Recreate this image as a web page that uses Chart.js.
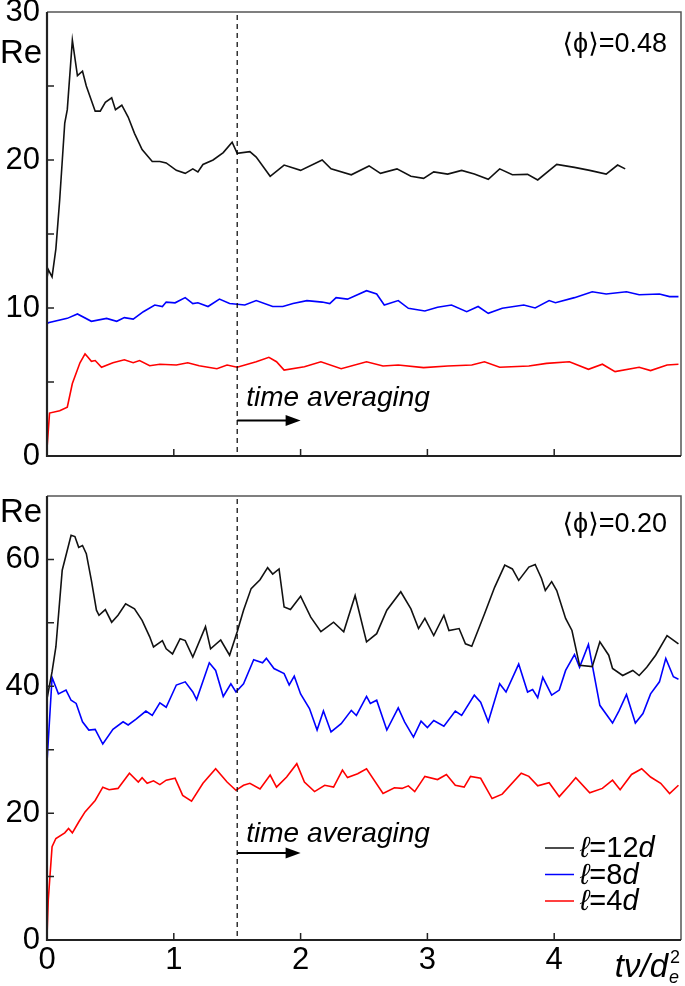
<!DOCTYPE html>
<html>
<head>
<meta charset="utf-8">
<script src="https://cdn.jsdelivr.net/npm/chart.js@4.4.1/dist/chart.umd.min.js"></script>
<style>
  body { margin: 0; background: #fff; }
  #wrap { position: relative; width: 685px; height: 986px; }
  canvas { position: absolute; left: 0; }
</style>
</head>
<body>
<div id="wrap">
  <canvas id="topChart" width="685" height="480" style="top:0"></canvas>
  <canvas id="bottomChart" width="685" height="506" style="top:480px"></canvas>
</div>
<script>
// lengths of the box, one series each
const lengths = ['12', '8', '4'];
const colors = ['#111111', '#0000ff', '#ff0000'];

// <phi> = 0.48 panel
const tTop12 = [0, 0.01, 0.04, 0.07, 0.10, 0.14, 0.16, 0.20, 0.24, 0.28, 0.31, 0.38, 0.42, 0.46, 0.51, 0.54, 0.59, 0.64, 0.69, 0.75, 0.83, 0.89, 0.94, 1.02, 1.09, 1.15, 1.19, 1.23, 1.31, 1.39, 1.46, 1.50, 1.60, 1.65, 1.76, 1.87, 2.00, 2.17, 2.24, 2.40, 2.54, 2.63, 2.76, 2.87, 2.97, 3.05, 3.16, 3.27, 3.37, 3.48, 3.57, 3.67, 3.79, 3.87, 4.02, 4.16, 4.28, 4.41, 4.50, 4.56];
const reTop12 = [12.0, 12.6, 12.1, 14.0, 17.3, 22.5, 23.4, 28.1, 25.7, 26.0, 25.0, 23.3, 23.3, 23.9, 24.2, 23.4, 23.7, 22.9, 21.8, 20.7, 19.9, 19.9, 19.8, 19.3, 19.1, 19.4, 19.2, 19.7, 20.0, 20.5, 21.2, 20.45, 20.56, 20.2, 18.9, 19.66, 19.3, 20.0, 19.4, 19.0, 19.6, 19.1, 19.4, 18.9, 18.76, 19.2, 19.05, 19.3, 19.05, 18.7, 19.4, 19.0, 19.03, 18.65, 19.7, 19.5, 19.3, 19.05, 19.66, 19.4];

const tTop8 = [0, 0.01, 0.16, 0.24, 0.35, 0.47, 0.55, 0.61, 0.68, 0.76, 0.85, 0.91, 0.94, 1.01, 1.09, 1.15, 1.19, 1.27, 1.36, 1.44, 1.56, 1.65, 1.78, 1.86, 1.94, 2.05, 2.17, 2.23, 2.28, 2.37, 2.52, 2.60, 2.66, 2.77, 2.85, 2.98, 3.08, 3.19, 3.31, 3.40, 3.48, 3.59, 3.76, 3.85, 3.96, 4.01, 4.16, 4.30, 4.41, 4.57, 4.67, 4.83, 4.91, 4.98];
const reTop8 = [8.9, 9.0, 9.3, 9.6, 9.1, 9.3, 9.1, 9.35, 9.25, 9.75, 10.2, 10.1, 10.4, 10.35, 10.7, 10.3, 10.35, 10.1, 10.6, 10.3, 10.2, 10.5, 10.1, 10.1, 10.3, 10.5, 10.4, 10.3, 10.7, 10.6, 11.17, 10.95, 10.2, 10.5, 9.98, 9.8, 10.05, 10.2, 9.75, 10.1, 9.64, 9.98, 10.2, 10.0, 10.5, 10.36, 10.7, 11.1, 10.95, 11.1, 10.9, 10.95, 10.77, 10.77];

const tTop4 = [0, 0.02, 0.10, 0.16, 0.20, 0.26, 0.30, 0.32, 0.35, 0.38, 0.43, 0.52, 0.61, 0.68, 0.73, 0.81, 0.89, 1.02, 1.11, 1.20, 1.34, 1.42, 1.50, 1.65, 1.75, 1.81, 1.87, 2.03, 2.16, 2.32, 2.52, 2.65, 2.77, 2.97, 3.16, 3.35, 3.45, 3.57, 3.80, 3.94, 4.12, 4.27, 4.38, 4.48, 4.67, 4.76, 4.89, 4.98];
const reTop4 = [0.5, 2.9, 3.06, 3.3, 4.9, 6.3, 6.9, 6.7, 6.4, 6.45, 6.0, 6.3, 6.5, 6.3, 6.45, 6.1, 6.2, 6.15, 6.3, 6.1, 5.9, 6.15, 6.0, 6.37, 6.67, 6.37, 5.8, 6.03, 6.37, 5.9, 6.37, 6.08, 6.15, 5.97, 6.08, 6.15, 6.37, 6.0, 6.08, 6.26, 6.37, 5.86, 6.2, 5.7, 6.0, 5.77, 6.15, 6.2];

// <phi> = 0.20 panel
const tBot12 = [0, 0.04, 0.07, 0.12, 0.19, 0.22, 0.25, 0.28, 0.31, 0.35, 0.39, 0.41, 0.46, 0.51, 0.56, 0.62, 0.69, 0.75, 0.81, 0.84, 0.91, 0.94, 0.99, 1.05, 1.09, 1.15, 1.25, 1.29, 1.37, 1.44, 1.50, 1.55, 1.61, 1.68, 1.74, 1.78, 1.83, 1.87, 1.92, 2.00, 2.08, 2.16, 2.26, 2.34, 2.43, 2.52, 2.60, 2.68, 2.79, 2.87, 2.93, 2.98, 3.05, 3.13, 3.17, 3.25, 3.30, 3.35, 3.45, 3.53, 3.61, 3.67, 3.72, 3.80, 3.85, 3.90, 3.93, 3.98, 4.02, 4.09, 4.14, 4.20, 4.30, 4.36, 4.43, 4.46, 4.54, 4.62, 4.67, 4.73, 4.80, 4.89, 4.98];
const reBot12 = [38, 42.3, 46.2, 58.3, 63.8, 63.6, 61.9, 62.2, 60.9, 56.7, 52.0, 51.2, 52.1, 50.1, 51.2, 53.0, 52.2, 50.4, 47.8, 46.2, 47.2, 45.9, 45.1, 47.5, 47.2, 44.6, 49.4, 45.9, 47.3, 44.9, 48.6, 52.0, 55.4, 56.8, 58.7, 57.7, 58.5, 52.5, 52.1, 54.2, 50.9, 48.6, 50.1, 48.6, 54.3, 47.0, 48.3, 52.0, 54.9, 52.2, 49.1, 50.7, 48.0, 51.2, 48.8, 49.1, 46.7, 46.3, 51.4, 55.6, 59.1, 58.5, 56.7, 58.8, 59.2, 57.0, 55.1, 56.5, 55.1, 50.7, 48.8, 43.3, 43.1, 47.0, 44.9, 42.8, 41.7, 42.5, 41.7, 43.0, 44.9, 48.0, 46.7];

const tBot8 = [0, 0.04, 0.09, 0.15, 0.19, 0.23, 0.28, 0.33, 0.38, 0.44, 0.52, 0.60, 0.64, 0.70, 0.78, 0.83, 0.89, 0.94, 1.02, 1.09, 1.15, 1.18, 1.28, 1.33, 1.39, 1.45, 1.49, 1.55, 1.63, 1.70, 1.73, 1.79, 1.87, 1.91, 1.95, 2.00, 2.07, 2.13, 2.18, 2.24, 2.32, 2.40, 2.44, 2.52, 2.55, 2.60, 2.68, 2.77, 2.82, 2.89, 2.95, 3.00, 3.05, 3.13, 3.22, 3.27, 3.37, 3.42, 3.48, 3.57, 3.62, 3.72, 3.79, 3.83, 3.87, 3.91, 3.98, 4.04, 4.09, 4.16, 4.20, 4.27, 4.31, 4.36, 4.46, 4.51, 4.57, 4.64, 4.70, 4.76, 4.83, 4.88, 4.94, 4.98];
const reBot8 = [28, 41.4, 38.8, 39.4, 37.8, 37.3, 34.4, 33.1, 33.2, 30.9, 33.2, 34.4, 33.9, 34.8, 36.1, 35.4, 37.4, 36.7, 40.2, 40.7, 39.1, 37.9, 43.7, 42.5, 38.4, 40.4, 39.1, 40.4, 44.2, 43.7, 44.4, 42.8, 42.0, 40.2, 41.6, 38.8, 36.5, 33.1, 36.1, 32.8, 34.1, 36.2, 35.4, 38.4, 37.3, 37.8, 33.1, 36.6, 34.4, 32.0, 34.5, 33.5, 34.6, 33.7, 36.1, 35.4, 38.6, 37.5, 34.4, 40.4, 39.1, 43.5, 39.1, 39.5, 38.2, 41.4, 38.6, 39.4, 42.5, 45.0, 43.0, 46.6, 42.3, 37.0, 34.2, 36.1, 38.7, 34.2, 35.7, 38.8, 40.7, 44.4, 41.5, 41.1];

const tBot4 = [0, 0.01, 0.04, 0.07, 0.14, 0.17, 0.20, 0.25, 0.30, 0.38, 0.44, 0.49, 0.56, 0.65, 0.72, 0.75, 0.79, 0.84, 0.89, 0.94, 1.01, 1.07, 1.14, 1.23, 1.33, 1.42, 1.49, 1.55, 1.60, 1.68, 1.76, 1.81, 1.89, 1.97, 2.03, 2.11, 2.19, 2.26, 2.33, 2.37, 2.45, 2.52, 2.65, 2.74, 2.80, 2.85, 2.90, 2.98, 3.08, 3.15, 3.22, 3.29, 3.34, 3.42, 3.51, 3.59, 3.74, 3.80, 3.87, 3.96, 4.04, 4.12, 4.17, 4.28, 4.38, 4.46, 4.52, 4.61, 4.69, 4.76, 4.84, 4.91, 4.98];
const reBot4 = [0.5, 6.3, 14.7, 16.0, 16.9, 17.6, 16.9, 18.6, 20.2, 22.0, 24.1, 23.7, 23.9, 26.3, 24.9, 25.6, 24.7, 25.1, 24.5, 25.2, 25.5, 22.8, 21.9, 24.7, 27.0, 24.9, 23.6, 24.4, 24.7, 23.8, 26.0, 24.1, 25.7, 27.8, 24.9, 23.4, 24.4, 24.1, 26.8, 25.6, 26.2, 27.0, 23.1, 24.0, 23.9, 24.3, 23.4, 25.8, 25.3, 26.1, 24.4, 24.1, 25.8, 25.5, 22.3, 23.0, 26.3, 25.8, 24.3, 24.8, 22.6, 24.4, 25.6, 23.2, 23.9, 25.2, 23.7, 26.1, 27.0, 25.7, 24.7, 23.1, 24.4];

const avgStart = 1.5;   // start of time averaging
const avgArrowEnd = 2.0;

const SANS = '"Liberation Sans", Arial, "DejaVu Sans", sans-serif';

function pts(t, re) {
    return t.map((v, i) => ({ x: v, y: re[i] }));
}

// frame, inward ticks, dashed line and all the text
const decorPlugin = {
    id: 'decor',
    afterDraw(chart, args, o) {
        const ctx = chart.ctx;
        const a = chart.chartArea;
        const xs = chart.scales.x, ys = chart.scales.y;
        ctx.save();

        // frame
        ctx.strokeStyle = '#555';
        ctx.lineWidth = 1.5;
        ctx.beginPath();
        ctx.moveTo(a.left, a.top); ctx.lineTo(a.right, a.top); ctx.lineTo(a.right, a.bottom);
        ctx.stroke();
        ctx.strokeStyle = '#222';
        ctx.lineWidth = 2.2;
        ctx.beginPath();
        ctx.moveTo(a.left, a.top); ctx.lineTo(a.left, a.bottom); ctx.lineTo(a.right, a.bottom);
        ctx.stroke();

        // inward ticks
        ctx.lineWidth = 1.5;
        ctx.beginPath();
        xs.ticks.forEach(t => {
            if (t.value <= xs.min || t.value >= xs.max) return;
            const px = xs.getPixelForValue(t.value);
            ctx.moveTo(px, a.bottom); ctx.lineTo(px, a.bottom - 7);
        });
        ys.ticks.forEach(t => {
            if (t.value <= ys.min || t.value >= ys.max) return;
            const py = ys.getPixelForValue(t.value);
            ctx.moveTo(a.left, py); ctx.lineTo(a.left + 7, py);
        });
        ctx.stroke();

        // dashed line where averaging starts
        const xa = xs.getPixelForValue(avgStart);
        ctx.strokeStyle = '#000';
        ctx.lineWidth = 1.2;
        ctx.setLineDash([5, 4]);
        ctx.beginPath();
        ctx.moveTo(xa, a.top + 3); ctx.lineTo(xa, a.bottom);
        ctx.stroke();
        ctx.setLineDash([]);

        // arrow
        const ya = ys.getPixelForValue(o.arrowY);
        const xe = xs.getPixelForValue(avgArrowEnd);
        ctx.lineWidth = 2;
        ctx.beginPath();
        ctx.moveTo(xa, ya); ctx.lineTo(xe - 10, ya);
        ctx.stroke();
        ctx.fillStyle = '#000';
        ctx.beginPath();
        ctx.moveTo(xe, ya); ctx.lineTo(xe - 15, ya - 5.5); ctx.lineTo(xe - 15, ya + 5.5);
        ctx.closePath();
        ctx.fill();

        // text
        ctx.fillStyle = '#000';
        ctx.textBaseline = 'middle';
        ctx.textAlign = 'left';
        ctx.font = 'italic 28px ' + SANS;
        ctx.fillText('time averaging', xa + 9, ys.getPixelForValue(o.textY));

        ctx.font = '33px ' + SANS;
        ctx.fillText('Re', 0, a.top + o.reDy);

        ctx.textAlign = 'right';
        ctx.font = '27px ' + SANS;
        ctx.fillText('\u27E8\u03D5\u27E9=' + o.phi, a.right - 14, a.top + o.phiDy);

        if (o.legend) {
            ctx.textAlign = 'left';
            chart.data.datasets.forEach((ds, i) => {
                const y = a.bottom - 92 + i * 26.5;
                ctx.strokeStyle = ds.borderColor;
                ctx.lineWidth = 1.5;
                ctx.beginPath();
                ctx.moveTo(a.right - 136, y); ctx.lineTo(a.right - 107, y);
                ctx.stroke();
                let x = a.right - 101;
                ctx.fillStyle = '#000';
                ctx.font = 'italic 29px ' + SANS;
                ctx.fillText('\u2113', x, y + 1);
                x += ctx.measureText('\u2113').width;
                ctx.font = '29px ' + SANS;
                const mid = '=' + lengths[i];
                ctx.fillText(mid, x, y + 1);
                x += ctx.measureText(mid).width;
                ctx.font = 'italic 29px ' + SANS;
                ctx.fillText('d', x, y + 1);
            });
        }

        if (o.xTitle) {
            ctx.textBaseline = 'alphabetic';
            ctx.textAlign = 'right';
            ctx.font = 'italic 33px ' + SANS;
            const xr = a.right - 13;
            ctx.fillText('t\u03BD/d', xr, a.bottom + 37);
            ctx.textAlign = 'left';
            ctx.font = 'italic 18px ' + SANS;
            ctx.fillText('e', xr + 1, a.bottom + 43);
            ctx.font = '18px ' + SANS;
            ctx.fillText('2', xr + 2, a.bottom + 23);
        }
        ctx.restore();
    }
};

function makeChart(id, series, cfg) {
    const ctx = document.getElementById(id).getContext('2d');
    return new Chart(ctx, {
        type: 'line',
        data: {
            datasets: series.map((s, i) => ({
                label: '\u2113=' + lengths[i] + 'd',
                data: pts(s[0], s[1]),
                borderColor: colors[i],
                borderWidth: 1.6,
                pointRadius: 0,
                tension: 0,
                fill: false
            }))
        },
        options: {
            responsive: false,
            animation: false,
            layout: { autoPadding: false, padding: { top: cfg.padTop, right: 4, left: 0, bottom: 0 } },
            plugins: {
                legend: { display: false },
                tooltip: { enabled: false },
                decor: cfg.decor
            },
            scales: {
                x: {
                    type: 'linear',
                    min: 0,
                    max: 5,
                    afterFit: s => { s.height = cfg.xHeight; s.paddingLeft = 0; s.paddingRight = 0; },
                    grid: { display: false, drawTicks: false },
                    border: { display: false },
                    ticks: {
                        stepSize: 1,
                        display: cfg.xLabels,
                        maxRotation: 0,
                        padding: 2,
                        color: '#000',
                        font: { family: SANS, size: 31 },
                        callback: v => (v < 5 ? String(v) : '')
                    }
                },
                y: {
                    min: 0,
                    max: cfg.yMax,
                    afterFit: s => { s.width = 47; s.paddingTop = 0; s.paddingBottom = 0; },
                    grid: { display: false, drawTicks: false },
                    border: { display: false },
                    ticks: {
                        stepSize: cfg.yStep,
                        padding: 7,
                        color: '#000',
                        font: { family: SANS, size: 31 },
                        callback: v => (v % cfg.yLabelStep === 0 ? String(v) : '')
                    }
                }
            }
        },
        plugins: [decorPlugin]
    });
}

makeChart('topChart', [[tTop12, reTop12], [tTop8, reTop8], [tTop4, reTop4]], {
    padTop: 12, xHeight: 24, xLabels: false, yMax: 30, yStep: 5, yLabelStep: 10,
    decor: { phi: '0.48', phiDy: 33, reDy: 42, textY: 3.9, arrowY: 2.4, legend: false, xTitle: false }
});

makeChart('bottomChart', [[tBot12, reBot12], [tBot8, reBot8], [tBot4, reBot4]], {
    padTop: 16, xHeight: 46, xLabels: true, yMax: 70, yStep: 10, yLabelStep: 20,
    decor: { phi: '0.20', phiDy: 29, reDy: 17, textY: 16.7, arrowY: 13.7, legend: true, xTitle: true }
});
</script>
</body>
</html>
